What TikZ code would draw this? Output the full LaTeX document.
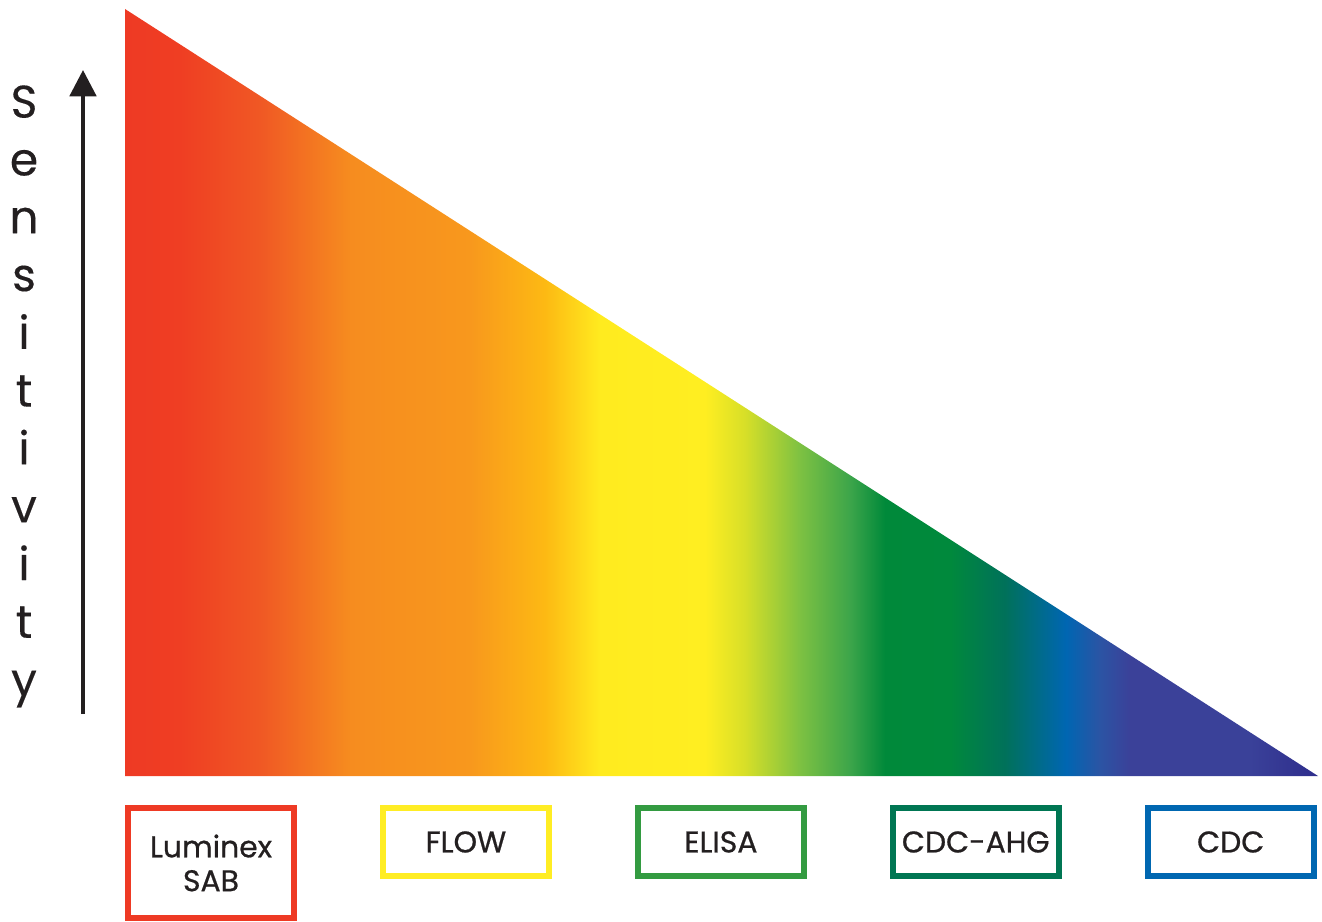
\documentclass[tikz,border=0pt]{standalone}
\usepackage{fontspec}
\setmainfont{Poppins}
\newfontface\medfont{Poppins}[FakeBold=0.7]
\newfontface\bookfont{Poppins}[FakeBold=0.3]
\usepackage{xcolor}
\usepackage{tikz}
\usetikzlibrary{arrows.meta, positioning}
\definecolor{mydark}{RGB}{35,31,32}
\definecolor{boxred}{RGB}{238,58,36}
\definecolor{boxyellow}{RGB}{255,237,36}
\definecolor{boxgreen}{RGB}{51,155,65}
\definecolor{boxdkgreen}{RGB}{0,118,83}
\definecolor{boxblue}{RGB}{0,103,177}
% spectrum stops
\definecolor{spred}{RGB}{238,58,36}
\definecolor{spredb}{RGB}{239,62,35}
\definecolor{spredorange}{RGB}{240,88,36}
\definecolor{sporange}{RGB}{246,140,31}
\definecolor{sporangeb}{RGB}{248,152,29}
\definecolor{spamber}{RGB}{253,185,19}
\definecolor{spyellow}{RGB}{255,235,31}
\definecolor{spyellowb}{RGB}{255,238,33}
\definecolor{spyelgreen}{RGB}{215,223,40}
\definecolor{splime}{RGB}{125,193,66}
\definecolor{spleaf}{RGB}{60,165,74}
\definecolor{spgreen}{RGB}{0,137,58}
\definecolor{spgreenb}{RGB}{0,137,60}
\definecolor{spteal}{RGB}{0,113,90}
\definecolor{spblue}{RGB}{0,102,178}
\definecolor{spslate}{RGB}{43,84,164}
\definecolor{spindigo}{RGB}{59,65,153}
\definecolor{spindigob}{RGB}{58,65,153}
\definecolor{spviolet}{RGB}{46,45,140}
\pgfdeclarehorizontalshading{spectrum}{100bp}{
  color(0bp)=(spred); color(25bp)=(spred); color(27.31bp)=(spredb);
  color(30.66bp)=(spredorange); color(34.43bp)=(sporange);
  color(39.46bp)=(sporangeb); color(42.6bp)=(spamber);
  color(44.91bp)=(spyellow); color(49.31bp)=(spyellowb);
  color(50.98bp)=(spyelgreen); color(53.29bp)=(splime);
  color(55.39bp)=(spleaf); color(56.85bp)=(spgreen);
  color(59.58bp)=(spgreenb); color(61.88bp)=(spteal);
  color(64.44bp)=(spblue); color(65.86bp)=(spslate);
  color(67.12bp)=(spindigo); color(72.15bp)=(spindigob);
  color(75bp)=(spviolet); color(100bp)=(spviolet)}
\tikzset{
  methodbox/.style={rectangle, draw, line width=3.4pt, fill=white,
    minimum width=3.32cm, minimum height=1.36cm, inner sep=0pt,
    align=center, text=mydark,
    font=\medfont\fontsize{17}{19.3}\selectfont},
  axisarrow/.style={-{Triangle[width=15pt,length=15pt]}, line width=2.3pt, color=mydark},
  axislabel/.style={inner sep=0pt, align=center, text=mydark,
    font=\bookfont\fontsize{26}{32.9}\selectfont}
}
\begin{document}
\begin{tikzpicture}[x=0.02cm, y=-0.02cm]
  \useasboundingbox (0,0) rectangle (1322,922);
  % Spectrum wedge
  \shade[shading=spectrum] (125,9) -- (125,776) -- (1318,776) -- cycle;

  % Sensitivity axis
  \coordinate (axisbase) at (83,714);
  \coordinate (axistip) at (83,70);
  \draw[axisarrow] (axisbase) -- (axistip);
  \node[axislabel, anchor=north] (sens) at (24,85) {S\\e\\n\\s\\i\\t\\i\\v\\i\\t\\y};

  % Assay boxes
  \node[methodbox, draw=boxred, minimum height=2.2cm, anchor=north] (lum) at (211,805) {Luminex\\SAB};
  \node[methodbox, draw=boxyellow, right=1.66cm of lum.north east, anchor=north west] (flow) {FLOW};
  \node[methodbox, draw=boxgreen, right=1.66cm of flow] (elisa) {ELISA};
  \node[methodbox, draw=boxdkgreen, right=1.66cm of elisa] (cdcahg) {CDC-AHG};
  \node[methodbox, draw=boxblue, right=1.66cm of cdcahg] (cdc) {CDC};
\end{tikzpicture}
\end{document}
